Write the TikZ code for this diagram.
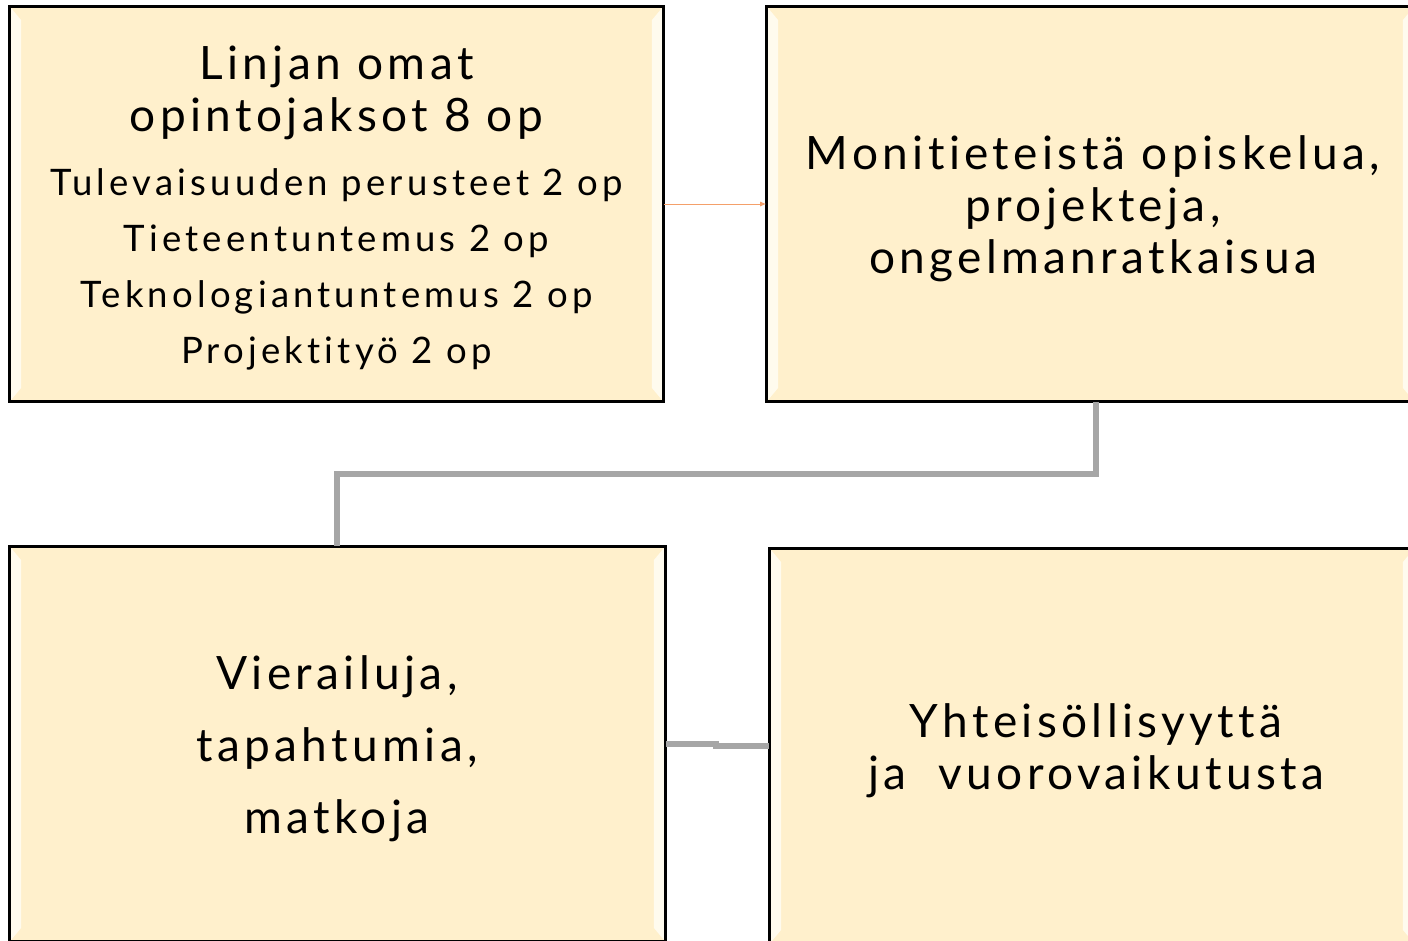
\documentclass[tikz,border=0pt]{standalone}
\usepackage{fontspec}
\setmainfont{Lato}[LetterSpace=9.5, Ligatures={NoCommon}]
\newfontfamily\listfont{Lato}[LetterSpace=11.5, Ligatures={NoCommon}]
\usetikzlibrary{positioning,arrows.meta}
\definecolor{cream}{HTML}{FFF0CC}
\definecolor{bevel}{HTML}{FFFBEE}
\definecolor{linkgray}{HTML}{A6A6A6}
\definecolor{linkorange}{HTML}{F4A06A}
\begin{document}
\begin{tikzpicture}[x=1pt, y=-1pt,
    box/.style={draw=black, line width=1.6pt, fill=cream, inner sep=0pt,
      minimum width=#1, minimum height=394pt},
    bigtext/.style={align=center, font=\fontsize{46}{52}\selectfont},
    link/.style={draw=linkgray, line width=6pt}]
    \clip (0,0) rectangle (1408,940);
    \fill[white] (0,0) rectangle (1408,940);

    % left column
    \node[box=653pt] (omat) at (336.5,204) {};
    \node[box=655pt] (vierailut) at (337.5,744) {};
    % right column
    \node[box=647pt] (moni) at (1090.5,204) {};
    \node[box=644pt] (yhteis) at (1092,746) {};

    % bevel strips, light inner edges
    \foreach \n in {omat,moni,vierailut,yhteis} {
      \fill[bevel] ([shift={(2,2)}]\n.north west) -- ++(10,12) -- ([shift={(12,-14)}]\n.south west) -- ([shift={(2,-2)}]\n.south west) -- cycle;
      \fill[bevel] ([shift={(-2,2)}]\n.north east) -- ++(-10,12) -- ([shift={(-12,-14)}]\n.south east) -- ([shift={(-2,-2)}]\n.south east) -- cycle;
      \draw[line width=1.6pt] (\n.north west) rectangle (\n.south east);
    }

    \node[bigtext] (omatotsikko) at (336.5,93) {Linjan omat\\ opintojaksot 8 op};
    \node[align=center, font=\listfont\fontsize{36.5}{56}\selectfont] (omatlista) at (336.5,269) {%
      Tulevaisuuden perusteet 2 op\\
      Tieteentuntemus 2 op\\
      Teknologiantuntemus 2 op\\
      Projektityö 2 op};
    \node[bigtext] at (1093,209) {Monitieteistä opiskelua,\\ projekteja,\\ ongelmanratkaisua};
    \node[bigtext, font=\fontsize{46}{72}\selectfont] at (337,749) {Vierailuja,\\ tapahtumia,\\ matkoja};
    \node[bigtext] at (1096,751) {Yhteisöllisyyttä\\ ja\ \ vuorovaikutusta};

    \coordinate (taiteR) at (1096,474);
    \coordinate (taiteL) at (337,474);
    \draw[linkorange, line width=0.9pt, -{Latex[length=6pt,width=5pt]}] (omat.east) -- (moni.west);
    \draw[link] (moni.south -| taiteR) -- (taiteR) -- (taiteL) -- (vierailut.north -| taiteL);
    \draw[link] (vierailut.east) -- (716,744) -- (716,746) -- (yhteis.west);
\end{tikzpicture}
\end{document}
